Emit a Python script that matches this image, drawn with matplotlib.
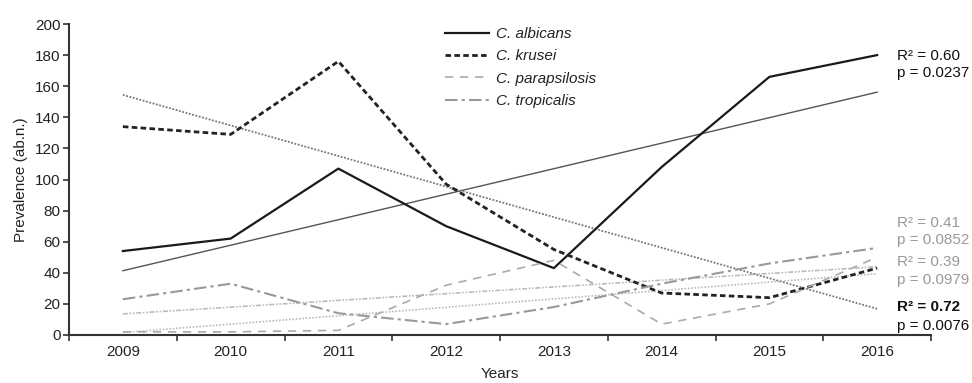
import numpy as np
import matplotlib
matplotlib.use("Agg")
import matplotlib.pyplot as plt

plt.rcParams['font.family'] = ['Liberation Sans', 'DejaVu Sans']

years = [2009, 2010, 2011, 2012, 2013, 2014, 2015, 2016]
albicans = [54, 62, 107, 70, 43, 108, 166, 180]
krusei = [134, 129, 176, 97, 55, 27, 24, 43]
parapsilosis = [2, 2, 3, 32, 48, 7, 20, 50]
tropicalis = [23, 33, 14, 7, 18, 33, 46, 56]

labels = ["C. albicans", "C. krusei", "C. parapsilosis", "C. tropicalis"]
stats_text = [("R² = 0.60", "p = 0.0237"), ("R² = 0.72", "p = 0.0076"),
              ("R² = 0.41", "p = 0.0852"), ("R² = 0.39", "p = 0.0979")]

W, H = 972, 383
fig = plt.figure(figsize=(W/100, H/100), dpi=100)
ax = fig.add_axes([69/W, 1-335/H, (931-69)/W, (335-24)/H])

x = np.array(years, dtype=float)

def trend(y):
    c = np.polyfit(x - x[0], np.array(y, float), 1)
    return np.polyval(c, x - x[0])

# trend lines
ax.plot(x, trend(albicans), color='#555555', lw=1.0)
ax.plot(x, trend(krusei), color='#777777', lw=1.3, dashes=(1.0, 0.9))
ax.plot(x, trend(parapsilosis), color='#bbbbbb', lw=1.2, dashes=(1.0, 1.0))
ax.plot(x, trend(tropicalis), color='#bbbbbb', lw=1.2, dashes=(3, 1, 1, 1, 1, 1))

# data series
l1, = ax.plot(x, albicans, color='#1a1a1a', lw=1.6)
l2, = ax.plot(x, krusei, color='#222222', lw=2.0, dashes=(2.0, 1.2))
l3, = ax.plot(x, parapsilosis, color='#aaaaaa', lw=1.2, dashes=(5, 4))
l4, = ax.plot(x, tropicalis, color='#999999', lw=1.5, dashes=(6, 2, 1.5, 2))

ax.set_xlim(2008.5, 2016.5)
ax.set_ylim(0, 200)
ax.set_yticks(range(0, 201, 20))
ax.set_xticks(years)
ax.set_xticks(np.arange(2008.5, 2017, 1.0), minor=True)
ax.tick_params(axis='x', which='major', length=0, pad=7, labelsize=11, colors='#222222')
ax.tick_params(axis='x', which='minor', length=4, width=1.2, color='#333333', direction='out')
ax.tick_params(axis='y', length=4, width=1.2, color='#333333', pad=2, labelsize=11, labelcolor='#222222')
for s in ['top', 'right']:
    ax.spines[s].set_visible(False)
for s in ['left', 'bottom']:
    ax.spines[s].set_linewidth(1.5)
    ax.spines[s].set_color('#333333')

ax.set_ylabel("Prevalence (ab.n.)", fontsize=11, color='#222222', labelpad=5)
ax.set_xlabel("Years", fontsize=11, color='#222222', labelpad=6)

leg = ax.legend([l1, l2, l3, l4], labels, loc='upper left',
                bbox_to_anchor=(445/W, 1-27/H), bbox_transform=fig.transFigure,
                frameon=False, borderpad=0, borderaxespad=0, handlelength=2.9,
                handletextpad=0.45, labelspacing=0.55,
                prop={'style': 'italic', 'size': 11})
for t in leg.get_texts():
    t.set_color('#222222')

# statistics annotations
tx = 2016.18
ax.text(tx, 179.5, stats_text[0][0], fontsize=11, color='#111111', va='center', clip_on=False)
ax.text(tx, 168.5, stats_text[0][1], fontsize=11, color='#111111', va='center', clip_on=False)
ax.text(tx, 72, stats_text[2][0], fontsize=11, color='#999999', va='center', clip_on=False)
ax.text(tx, 61, stats_text[2][1], fontsize=11, color='#999999', va='center', clip_on=False)
ax.text(tx, 47, stats_text[3][0], fontsize=11, color='#999999', va='center', clip_on=False)
ax.text(tx, 35.5, stats_text[3][1], fontsize=11, color='#999999', va='center', clip_on=False)
ax.text(tx, 18, stats_text[1][0], fontsize=11, color='#111111', va='center', clip_on=False, fontweight='bold')
ax.text(tx, 6, stats_text[1][1], fontsize=11, color='#111111', va='center', clip_on=False)

fig.savefig("out.png", dpi=100)
